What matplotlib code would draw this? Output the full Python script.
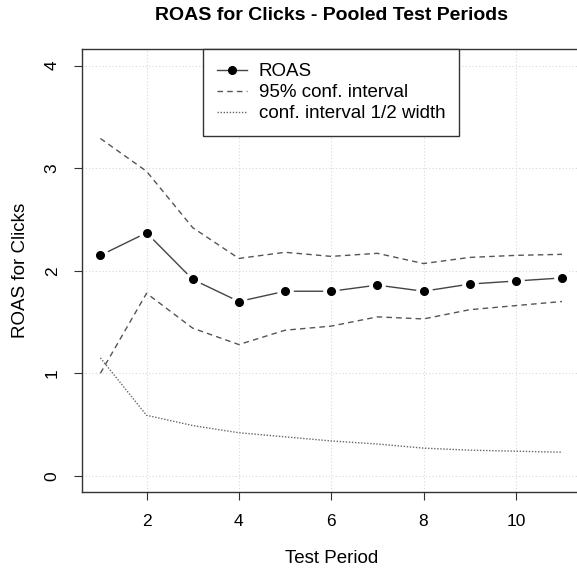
import matplotlib
matplotlib.use('Agg')
import matplotlib.pyplot as plt

plt.rcParams['font.family'] = ['Liberation Sans', 'DejaVu Sans']

# data
periods = [1, 2, 3, 4, 5, 6, 7, 8, 9, 10, 11]
roas = [2.15, 2.37, 1.915, 1.70, 1.80, 1.80, 1.86, 1.80, 1.87, 1.90, 1.93]
ci_upper = [3.29, 2.97, 2.42, 2.12, 2.18, 2.14, 2.17, 2.07, 2.13, 2.15, 2.16]
ci_lower = [1.00, 1.78, 1.44, 1.28, 1.42, 1.46, 1.55, 1.53, 1.62, 1.66, 1.70]
half_width = [1.15, 0.59, 0.49, 0.42, 0.38, 0.34, 0.31, 0.27, 0.25, 0.24, 0.23]

x_ticks = [2, 4, 6, 8, 10]
y_ticks = [0, 1, 2, 3, 4]

fig = plt.figure(figsize=(5.77, 5.73), dpi=100)
ax = fig.add_axes([0.142, 0.141, 0.864, 0.773])

ax.set_xlim(0.6, 11.4)
ax.set_ylim(-0.16, 4.16)

# light dotted grid like R's grid()
for xv in x_ticks:
    ax.axvline(xv, color='#d9d9d9', lw=0.8, ls=(0, (1, 2)), zorder=0)
for yv in y_ticks:
    ax.axhline(yv, color='#d9d9d9', lw=0.8, ls=(0, (1, 2)), zorder=0)

ax.plot(periods, ci_upper, color='#555555', lw=1, ls=(0, (4, 3)), zorder=2)
ax.plot(periods, ci_lower, color='#555555', lw=1, ls=(0, (4, 3)), zorder=2)
ax.plot(periods, half_width, color='#666666', lw=1, ls=(0, (1, 1.2)), zorder=2)

# type="b": line with gaps around the points
ax.plot(periods, roas, color='#444444', lw=1, zorder=3)
ax.plot(periods, roas, 'o', ms=11, color='white', mec='white', zorder=4)
ax.plot(periods, roas, 'o', ms=5.5, color='black', mec='black', zorder=5)

ax.set_xticks(x_ticks)
ax.set_yticks(y_ticks)
ax.tick_params(axis='both', direction='out', length=6, width=0.8, color='#333333',
               labelsize=12.5)
ax.tick_params(axis='x', pad=10)
ax.tick_params(axis='y', pad=10)
plt.setp(ax.get_yticklabels(), rotation=90, va='center')

for s in ax.spines.values():
    s.set_color('#333333')
    s.set_linewidth(1)

ax.set_xlabel('Test Period', fontsize=13.5, labelpad=15)
ax.set_ylabel('ROAS for Clicks', fontsize=13.5, labelpad=11)
ax.set_title('ROAS for Clicks - Pooled Test Periods', fontsize=14,
             fontweight='bold', pad=21)

h1, = ax.plot([], [], color='#444444', lw=1, marker='o', ms=5.5,
              mfc='black', mec='black')
h2, = ax.plot([], [], color='#555555', lw=1, ls=(0, (4, 3)))
h3, = ax.plot([], [], color='#666666', lw=1, ls=(0, (1, 1.2)))
leg = ax.legend([h1, h2, h3],
                ['ROAS', '95% conf. interval', 'conf. interval 1/2 width'],
                loc='upper center', borderaxespad=0, fancybox=False,
                edgecolor='#333333', framealpha=1, fontsize=13.5,
                handlelength=1.6, handletextpad=0.6, labelspacing=0.2,
                borderpad=0.75)
leg.get_frame().set_linewidth(1)

fig.savefig('out.png', dpi=100)
